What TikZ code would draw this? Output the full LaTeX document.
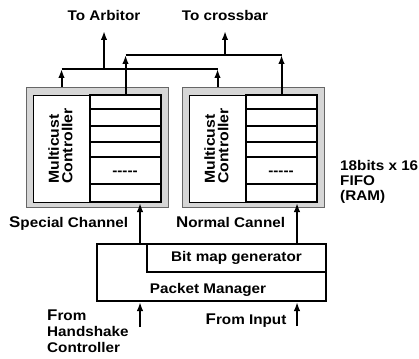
\documentclass[tikz,border=0pt]{standalone}
\usepackage{fontspec}
\setmainfont{Liberation Sans}[FakeStretch=1.09]
\usetikzlibrary{arrows.meta,positioning}

\tikzset{
  lbl/.style={font=\fontsize{14}{16}\selectfont\bfseries, inner sep=0pt},
  grayframe/.style={draw=black!60, line width=0.9pt, fill=black!16,
    minimum width=142pt, minimum height=120pt, inner sep=0pt},
  pane/.style={draw, line width=0.9pt, fill=white,
    minimum width=128pt, minimum height=107pt, inner sep=0pt},
  fifobox/.style={draw, line width=2pt,
    minimum width=71pt, minimum height=107pt, inner sep=0pt},
  blockbox/.style={draw, line width=2pt, inner sep=0pt},
  wire/.style={line width=2pt},
  feed/.style={wire, -{Latex[length=9pt,width=6.5pt]}},
}
\newcommand{\bigfirst}[1]{{\fontsize{15.5}{16}\selectfont #1}}

\begin{document}
\begin{tikzpicture}[x=1pt, y=-1pt]
\useasboundingbox (0,0) rectangle (419,358);

% the two channel buffers
\foreach \nm/\dx in {L/0, R/156}{
  \node[grayframe] (frame\nm) at (97+\dx,147) {};
  \node[pane] (pane\nm) at (97+\dx,148.5) {};
  \node[lbl, rotate=90, align=left, font=\fontsize{14.5}{13.5}\selectfont\bfseries] (mc\nm) at (60.5+\dx,146) {Multicust\\Controller};
  \node[fifobox] (fifo\nm) at (125.5+\dx,148.5) {};
  \foreach \r in {15,32,48,63,90}
    \draw[wire] (fifo\nm.north west) ++(0,\r) -- ++(71,0);
  \node[lbl] (dots\nm) at (125+\dx,173) {{-}{-}{-}{-}{-}};
  \coordinate (ctrl\nm) at (61.5+\dx,87);
}

% outputs to arbitor and crossbar
\coordinate (arbbus) at (0,69);
\coordinate (xbarbus) at (0,55);
\coordinate (arbout) at (104,31);
\coordinate (xbarout) at (225,31);
\node[lbl, above=10pt of arbout] (arb) {To Arbitor};
\node[lbl, above=10pt of xbarout] (xbar) {To crossbar};

\draw[wire] (ctrlL |- arbbus) -- (ctrlR |- arbbus);
\draw[feed] (ctrlL) -- (ctrlL |- arbbus);
\draw[feed] (ctrlR) -- (ctrlR |- arbbus);
\draw[feed] (arbout |- arbbus) -- (arbout);

\draw[wire] (fifoL.north |- xbarbus) -- (fifoR.north |- xbarbus);
\draw[feed] (fifoL.north) -- (fifoL.north |- xbarbus);
\draw[feed] (fifoR.north) -- (fifoR.north |- xbarbus);
\draw[feed] (xbarout |- xbarbus) -- (xbarout);

% packet manager
\node[blockbox, minimum width=229pt, minimum height=57pt] (pm) at (211.5,272.5) {};
\node[blockbox, lbl, minimum width=179pt, minimum height=28pt] (bmg) at (236.5,258) {Bit map generator};
\node[lbl] (pmtext) at (208,289.5) {Packet Manager};

% inputs
\coordinate (spin) at (140,327);
\coordinate (inpin) at (297,326);
\draw[feed] (spin) -- (spin |- pm.south);
\draw[feed] (inpin) -- (inpin |- pm.south);
\draw[feed] (spin |- pm.north) -- (spin |- fifoL.south);
\draw[feed] (inpin |- bmg.north) -- (inpin |- fifoR.south);

% labels
\node[lbl, anchor=base west] (spch) at (9,227) {\bigfirst{S}pecial Channel};
\node[lbl, anchor=base west] (nch) at (176,227) {\bigfirst{N}ormal Cannel};
\node[lbl, anchor=base west] (fin) at (205.5,324) {\bigfirst{F}rom Input};
\node[lbl, align=left, anchor=north west] (fhs) at (47,310) {\bigfirst{F}rom\\Handshake\\Controller};
\node[lbl, align=left, anchor=north west, font=\fontsize{14}{15}\selectfont\bfseries] (fifotxt) at (340,160) {18bits x 16\\FIFO\\(RAM)};

\end{tikzpicture}
\end{document}
